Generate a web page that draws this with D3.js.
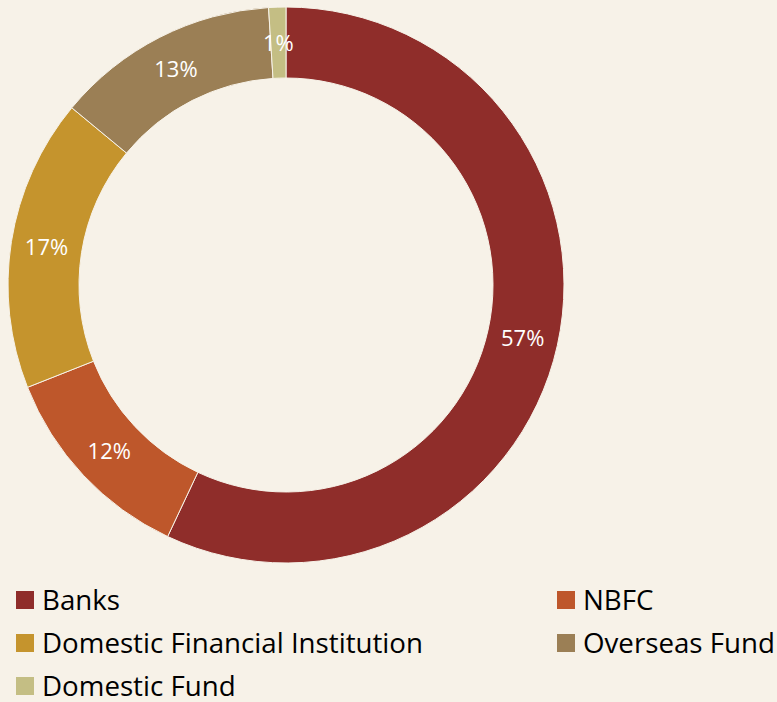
<!DOCTYPE html>
<html>
<head>
<meta charset="utf-8">
<script src="https://cdn.jsdelivr.net/npm/d3@7"></script>
<style>
  html, body { margin: 0; padding: 0; background: #F7F2E8; }
  svg { display: block; font-family: "Open Sans", Lato, sans-serif; }
</style>
</head>
<body>
<svg id="chart" width="777" height="702"></svg>
<script>
// Share of holdings by investor type
const categories = ["Banks", "NBFC", "Domestic Financial Institution", "Overseas Fund", "Domestic Fund"];
const shares = [57, 12, 17, 13, 1];
const colors = ["#8F2D2A", "#BE572B", "#C5942D", "#9B7F55", "#C4BE84"];

const svg = d3.select("#chart");
const cx = 286, cy = 285, outerR = 278, innerR = 207;

const pie = d3.pie().sort(null).value(d => d.value);
const arc = d3.arc().innerRadius(innerR).outerRadius(outerR);
const data = categories.map((c, i) => ({ name: c, value: shares[i] }));
const color = d3.scaleOrdinal().domain(categories).range(colors);

const g = svg.append("g").attr("transform", `translate(${cx},${cy})`);
const arcs = pie(data);

g.selectAll("path.slice")
  .data(arcs)
  .join("path")
  .attr("class", "slice")
  .attr("d", arc)
  .attr("fill", d => color(d.data.name))
  .attr("stroke", "#F7F2E8")
  .attr("stroke-width", 1);

g.selectAll("text.pct")
  .data(arcs)
  .join("text")
  .attr("class", "pct")
  .attr("transform", d => `translate(${arc.centroid(d)})`)
  .attr("text-anchor", "middle")
  .attr("y", 8)
  .attr("fill", "#FFFFFF")
  .attr("font-size", 22)
  .text(d => d.data.value + "%");

// Legend: two columns, rows filled left to right
const legend = svg.append("g");
const colX = [16, 557], rowY0 = 600, rowH = 43, sw = 18;
const items = legend.selectAll("g.item")
  .data(categories)
  .join("g")
  .attr("class", "item")
  .attr("transform", (d, i) => `translate(${colX[i % 2]},${rowY0 + Math.floor(i / 2) * rowH})`);

items.append("rect")
  .attr("x", 0).attr("y", -sw / 2)
  .attr("width", sw).attr("height", sw)
  .attr("fill", d => color(d));

items.append("text")
  .attr("x", 26)
  .attr("y", 9.5)
  .attr("font-size", 27.7)
  .attr("fill", "#000000")
  .text(d => d);
</script>
</body>
</html>
